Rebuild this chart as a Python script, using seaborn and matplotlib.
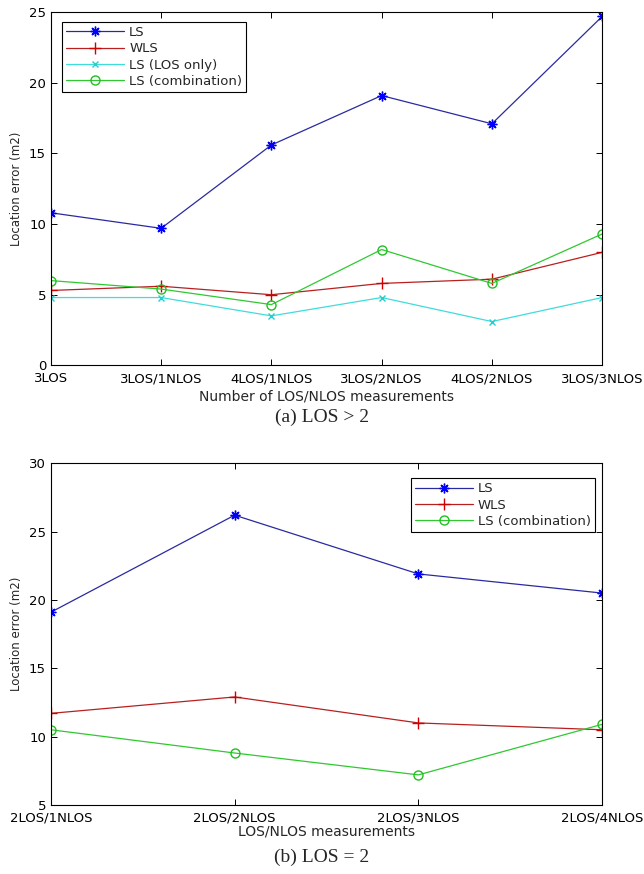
import matplotlib
matplotlib.use("Agg")
import matplotlib.pyplot as plt
import seaborn as sns

sns.set_theme(style="ticks")
plt.rcParams['font.family'] = ['DejaVu Sans']

# (a) LOS > 2
cats_a = ['3LOS', '3LOS/1NLOS', '4LOS/1NLOS', '3LOS/2NLOS', '4LOS/2NLOS', '3LOS/3NLOS']
ls_a = [10.8, 9.7, 15.6, 19.1, 17.1, 24.7]
wls_a = [5.3, 5.6, 5.0, 5.8, 6.1, 8.0]
los_only_a = [4.8, 4.8, 3.5, 4.8, 3.1, 4.8]
comb_a = [6.0, 5.4, 4.3, 8.2, 5.8, 9.3]

# (b) LOS = 2
cats_b = ['2LOS/1NLOS', '2LOS/2NLOS', '2LOS/3NLOS', '2LOS/4NLOS']
ls_b = [19.1, 26.2, 21.9, 20.5]
wls_b = [11.7, 12.9, 11.0, 10.5]
comb_b = [10.5, 8.8, 7.2, 10.9]

styles = {
    'LS': dict(color='#2a2aa0', marker=(8, 2, 0), markersize=7,
               markeredgecolor='#0000ff', markeredgewidth=1.0),
    'WLS': dict(color='#b82020', marker='+', markersize=8,
                markeredgecolor='#d00000', markeredgewidth=1.0),
    'LS (LOS only)': dict(color='#40dcdc', marker='x', markersize=4,
                          markeredgecolor='#20d0d0', markeredgewidth=1.0),
    'LS (combination)': dict(color='#30c830', marker='o', markersize=6.5,
                             markerfacecolor='none', markeredgecolor='#20c020',
                             markeredgewidth=1.0),
}

fig = plt.figure(figsize=(6.44, 8.74), dpi=100)
ax1 = fig.add_axes([0.079, 0.582, 0.856, 0.404])
ax2 = fig.add_axes([0.079, 0.079, 0.856, 0.391])


def draw(ax, cats, series, ylim, yticks, xlabel, pad, legend_loc, anchor):
    for name, vals in series:
        st = styles[name]
        sns.lineplot(x=cats, y=vals, ax=ax, sort=False, label=name,
                     linewidth=0.9, **st)
    ax.set_xlim(0, len(cats) - 1)
    ax.set_ylim(*ylim)
    ax.set_yticks(yticks)
    ax.set_xticks(range(len(cats)))
    ax.set_xticklabels(cats)
    ax.tick_params(direction='in', top=True, right=True, labelsize=9.5,
                   length=4, width=0.7, colors='black')
    ax.tick_params(axis='x', pad=5)
    for sp in ax.spines.values():
        sp.set_linewidth(0.8)
        sp.set_color('black')
    ax.set_xlabel(xlabel, fontsize=10, labelpad=pad)
    ax.set_ylabel('Location error (m2)', fontsize=8.5, labelpad=4)
    leg = ax.legend(loc=legend_loc, bbox_to_anchor=anchor, fontsize=9.5,
                    frameon=True, fancybox=False, edgecolor='black',
                    framealpha=1, borderpad=0.3, labelspacing=0.25,
                    handlelength=4.4, handletextpad=0.4, borderaxespad=0)
    leg.get_frame().set_linewidth(0.8)


draw(ax1, cats_a,
     [('LS', ls_a), ('WLS', wls_a), ('LS (LOS only)', los_only_a), ('LS (combination)', comb_a)],
     (0, 25), range(0, 26, 5), 'Number of LOS/NLOS measurements', 3,
     'upper left', (0.020, 0.972))
draw(ax2, cats_b,
     [('LS', ls_b), ('WLS', wls_b), ('LS (combination)', comb_b)],
     (5, 30), range(5, 31, 5), 'LOS/NLOS measurements', 0,
     'upper right', (0.987, 0.956))

fig.text(0.5, 1 - 417 / 874, '(a) LOS > 2', ha='center', va='center',
         fontsize=14, family='Liberation Serif')
fig.text(0.5, 1 - 857 / 874, '(b) LOS = 2', ha='center', va='center',
         fontsize=14, family='Liberation Serif')

fig.savefig('out.png', dpi=100)
